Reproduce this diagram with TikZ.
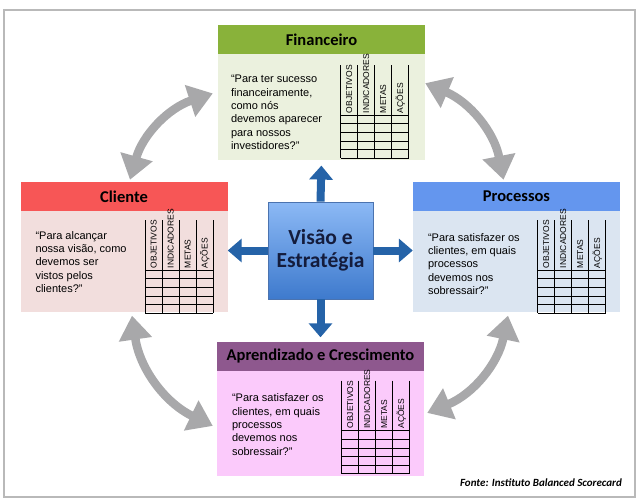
\documentclass[tikz,border=0pt]{standalone}
\usepackage{fontspec}
\setmainfont{Liberation Sans}
\newfontfamily\calibfont{Carlito}
\usepackage{xcolor}
\usepackage{tikz}
\usetikzlibrary{arrows.meta,positioning}
\definecolor{finGreen}{RGB}{137,178,58}
\definecolor{finBody}{RGB}{235,241,222}
\definecolor{cliRed}{RGB}{247,86,86}
\definecolor{cliBody}{RGB}{242,222,221}
\definecolor{proBlue}{RGB}{100,150,238}
\definecolor{proBody}{RGB}{219,229,241}
\definecolor{aprPurple}{RGB}{142,88,142}
\definecolor{aprBody}{RGB}{251,202,251}
\definecolor{visTop}{RGB}{140,185,245}
\definecolor{visBottom}{RGB}{62,122,205}
\definecolor{visBorder}{RGB}{75,115,175}
\definecolor{visText}{RGB}{20,28,60}
\definecolor{arrowBlue}{RGB}{37,99,168}
\definecolor{arrowGray}{RGB}{168,168,170}

% table with the four column heads, drawn at the scope origin
\newcommand{\bscgrid}{%
  \foreach \col in {0,...,4}
    \draw[gridline] (17*\col,-50) -- (17*\col,43);
  \foreach \row in {0,...,5}
    \draw[gridline] (0,8.6*\row) -- (68,8.6*\row);
  \foreach \lbl [count=\i from 0] in {OBJETIVOS,INDICADORES,METAS,AÇÕES}
    \node[collbl] at (8.5+17*\i,-2) {\lbl};
}

\begin{document}
\begin{tikzpicture}[
  x=1pt, y=-1pt,
  hdr/.style={minimum width=207pt, minimum height=29pt, inner sep=0pt,
              font=\calibfont\fontsize{16.5}{19}\selectfont\bfseries},
  bodybox/.style={minimum width=207pt, inner sep=0pt},
  quote/.style={anchor=north west, align=left, inner sep=0pt,
              font=\fontsize{11}{13.3}\selectfont},
  collbl/.style={rotate=90, anchor=west, inner sep=0pt, font=\fontsize{8.5}{9}\selectfont},
  gridline/.style={line width=0.8pt},
  visbox/.style={draw=visBorder, thick, top color=visTop, bottom color=visBottom,
              minimum width=105pt, minimum height=97pt, align=center, text=visText,
              font=\calibfont\fontsize{21.5}{23.5}\selectfont\bfseries},
  visarr/.style={-{Triangle[length=14pt,width=23pt]}, line width=8pt, arrowBlue},
  cycarr/.style={{Triangle[length=24pt,width=32pt]}-{Triangle[length=24pt,width=32pt]},
              line width=8.5pt, arrowGray}
]
\useasboundingbox (0,0) rectangle (642,499);
\draw[gray!55, line width=1.2pt] (4,10) rectangle (635,497);

% perspectives
\node[hdr, fill=finGreen] (finH) at (321.5,39.5) {Financeiro};
\node[bodybox, fill=finBody, minimum height=106pt, below=0pt of finH] (finB) {};
\node[hdr, fill=cliRed] (cliH) at (124,196.5) {Cliente};
\node[bodybox, fill=cliBody, minimum height=101pt, below=0pt of cliH] (cliB) {};
\node[hdr, fill=proBlue] (proH) at (516.5,196.5) {Processos};
\node[bodybox, fill=proBody, minimum height=101pt, below=0pt of proH] (proB) {};
\node[hdr, fill=aprPurple] (aprH) at (320.5,356) {Aprendizado e Crescimento};
\node[bodybox, fill=aprBody, minimum height=105pt, below=0pt of aprH] (aprB) {};

\node[quote] (finQ) at ([shift={(13,21)}]finB.north west)
  {“Para ter sucesso\\financeiramente,\\como nós\\devemos aparecer\\para nossos\\investidores?”};
\node[quote] (cliQ) at ([shift={(15,20)}]cliB.north west)
  {“Para alcançar\\nossa visão, como\\devemos ser\\vistos pelos\\clientes?”};
\node[quote] (proQ) at ([shift={(15,22)}]proB.north west)
  {“Para satisfazer os\\clientes, em quais\\processos\\devemos nos\\sobressair?”};
\node[quote] (aprQ) at ([shift={(15,23)}]aprB.north west)
  {“Para satisfazer os\\clientes, em quais\\processos\\devemos nos\\sobressair?”};

\begin{scope}[shift={([shift={(123,61)}]finB.north west)}] \bscgrid \end{scope}
\begin{scope}[shift={([shift={(125,59)}]cliB.north west)}] \bscgrid \end{scope}
\begin{scope}[shift={([shift={(125,59)}]proB.north west)}] \bscgrid \end{scope}
\begin{scope}[shift={([shift={(125,60)}]aprB.north west)}] \bscgrid \end{scope}

% centre
\node[visbox] (vis) at (320.5,250.5) {Visão e\\Estratégia};
\draw[visarr, shorten >=5pt] (vis.north) -- (finB.south);
\draw[visarr] (vis.west) -- (cliB.east |- vis.west);
\draw[visarr] (vis.east) -- (proB.west |- vis.east);
\draw[visarr, shorten >=4pt] (vis.south) -- (aprH.north);

% cycle
\draw[cycarr] ([shift={(6,-2)}]cliH.north) to[bend left=28] ([shift={(-5,-14)}]finB.west);
\draw[cycarr] ([shift={(0,29)}]finB.north east) to[bend left=28] ([shift={(-13,-2)}]proH.north);
\draw[cycarr] ([shift={(8,3)}]cliB.south) to[bend right=28] ([shift={(-4,2.5)}]aprB.west);
\draw[cycarr] ([shift={(-8.5,3)}]proB.south) to[bend left=28] ([shift={(3,-10.5)}]aprB.east);

\node[font=\calibfont\fontsize{11}{13}\selectfont\bfseries\itshape] (src) at (541,483)
  {Fonte: Instituto Balanced Scorecard};
\end{tikzpicture}
\end{document}
